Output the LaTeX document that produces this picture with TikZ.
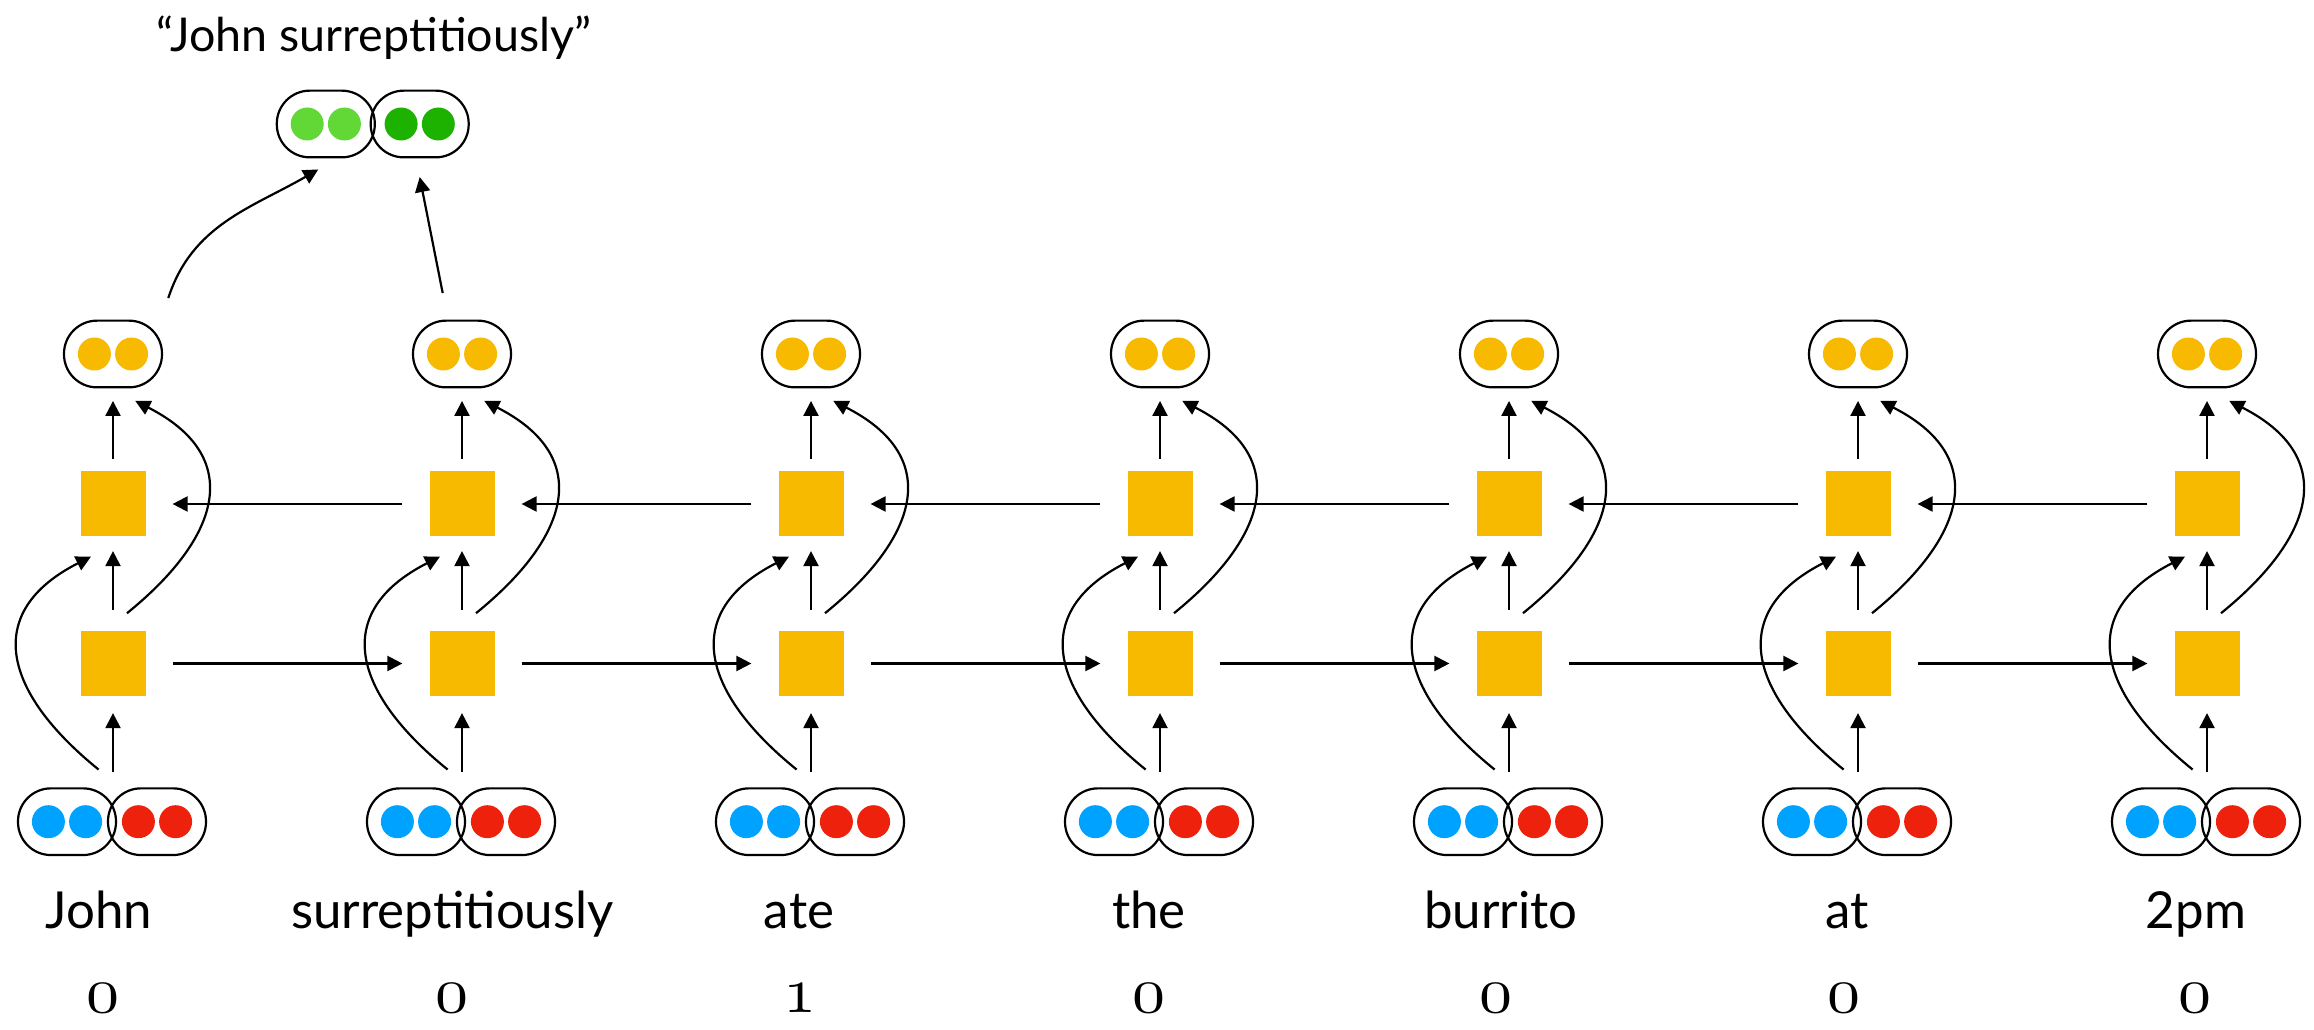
\documentclass[tikz,border=0pt]{standalone}
\usepackage{fontspec}
\usepackage{tikz}
\usetikzlibrary{arrows.meta}

\newfontfamily\labelfont{Lato}
\DeclareFontFamily{OML}{tagfig}{\skewchar\font=127}
\DeclareFontShape{OML}{tagfig}{m}{it}{<-> cmmi10}{}
\newcommand{\wordfont}{\labelfont\fontsize{51}{60}\selectfont}
\newcommand{\titlefont}{\labelfont\fontsize{46.6}{56}\selectfont}
\newcommand{\tagfont}{\fontencoding{OML}\fontfamily{tagfig}\fontseries{m}\fontshape{it}\fontsize{66}{70}\selectfont}

\definecolor{cellyellow}{RGB}{248,186,0}
\definecolor{wordblue}{RGB}{0,162,255}
\definecolor{wordred}{RGB}{238,34,12}
\definecolor{phraselight}{RGB}{97,216,54}
\definecolor{phrasedark}{RGB}{29,177,0}

\begin{document}
\begin{tikzpicture}[
            > = {Triangle[length=15pt, width=15pt]}, % arrow head style
            x = 1pt, y = 1pt, % one unit per pixel
            line width = 2.2pt % line style
        ]

        \tikzstyle{cell}=[
            fill = cellyellow,
            minimum size = 65pt,
            inner sep = 0pt
        ]
        \tikzstyle{pill}=[
            draw = black,
            line width = 2.2pt,
            rounded corners = 33pt,
            minimum width = 98pt,
            minimum height = 66.7pt,
            inner sep = 0pt
        ]
        \tikzstyle{dot}=[circle, inner sep = 0pt, minimum size = 33pt]
        \tikzstyle{pair}=[minimum width = 188pt, minimum height = 66.7pt, inner sep = 0pt]
        \tikzstyle{word}=[anchor = base, font = \wordfont]
        \tikzstyle{tag}=[anchor = base, inner sep = 0pt, font = \tagfont]

    \useasboundingbox (0, 0) rectangle (2314, 1029);

    % Define the nodes and their positions, one column per word
    \foreach \col/\w/\wx/\tg/\tx in {1/John/99/0/102.7, 2/surreptitiously/452.5/0/452,
            3/ate/799/1/800, 4/the/1149/0/1149, 5/burrito/1501/0/1496,
            6/at/1847/0/1844, 7/2pm/2196/0/2195} {
        \pgfmathsetmacro{\cx}{113 + 349*(\col-1)}
        % word vectors
        \node[pair] (in\col) at (\cx, 207.3) {};
        \node[pill] (inl\col) at (\cx-46, 207.3) {};
        \node[pill] (inr\col) at (\cx+44, 207.3) {};
        \node[dot, fill = wordblue] (inl\col-a) at ([xshift=-18.6pt]inl\col.center) {};
        \node[dot, fill = wordblue] (inl\col-b) at ([xshift=18.6pt]inl\col.center) {};
        \node[dot, fill = wordred] (inr\col-a) at ([xshift=-18.6pt]inr\col.center) {};
        \node[dot, fill = wordred] (inr\col-b) at ([xshift=18.6pt]inr\col.center) {};
        % forward and backward cells
        \node[cell] (lo\col) at (\cx, 365.5) {};
        \node[cell] (up\col) at (\cx, 525) {};
        % output vector
        \node[pill] (out\col) at (\cx, 675) {};
        \node[dot, fill = cellyellow] (out\col-a) at ([xshift=-18.6pt]out\col.center) {};
        \node[dot, fill = cellyellow] (out\col-b) at ([xshift=18.6pt]out\col.center) {};
        % word and tag
        \node[word] (w\col) at (\wx, 100.7) {\w};
        \node[tag] (t\col) at (\tx, 17) {\tg};

        % Draw edges inside the column
        \draw[->, shorten < = 15.4pt, shorten > = 16pt] (in\col.north) -- (lo\col.south);
        \draw[->, shorten < = 20pt, shorten > = 13.5pt] (lo\col.north) -- (up\col.south);
        \draw[->, shorten < = 11.5pt, shorten > = 12.5pt] (up\col.north) -- (out\col.south);
        \draw[->] ([shift={(-14.4,17.7)}]in\col.north)
            to[out=141, in=-153, looseness=1.47] ([shift={(-22,-19)}]up\col.south);
        \draw[->] ([shift={(14,16.7)}]lo\col.north)
            to[out=39, in=-27, looseness=1.47] ([shift={(22.3,-12.5)}]out\col.south);
    }

    % Draw edges between columns
    \foreach \col in {1,...,6} {
        \pgfmathtruncatemacro{\nxt}{\col+1}
        \draw[->, shorten < = 26pt, shorten > = 26pt] (lo\col.east) -- (lo\nxt.west);
        \draw[->, shorten < = 26pt, shorten > = 26pt] (up\nxt.west) -- (up\col.east);
    }

    % phrase vector
    \node[pill] (gl) at (325.8, 905) {};
    \node[pill] (gr) at (419.7, 905) {};
    \node[dot, fill = phraselight] (gl-a) at ([xshift=-18.6pt]gl.center) {};
    \node[dot, fill = phraselight] (gl-b) at ([xshift=18.6pt]gl.center) {};
    \node[dot, fill = phrasedark] (gr-a) at ([xshift=-18.6pt]gr.center) {};
    \node[dot, fill = phrasedark] (gr-b) at ([xshift=18.6pt]gr.center) {};
    \node[anchor = base, font = \titlefont] (title) at (374, 977.3) {“John surreptitiously”};

    \draw[->] ([shift={(55.3,21.5)}]out1.north) to[out=72, in=-150] ([shift={(-7.5,-11)}]gl.south);
    \draw[->] ([shift={(-19.3,26.5)}]out2.north) -- ([shift={(0,-18.6)}]gr.south);
\end{tikzpicture}
\end{document}
